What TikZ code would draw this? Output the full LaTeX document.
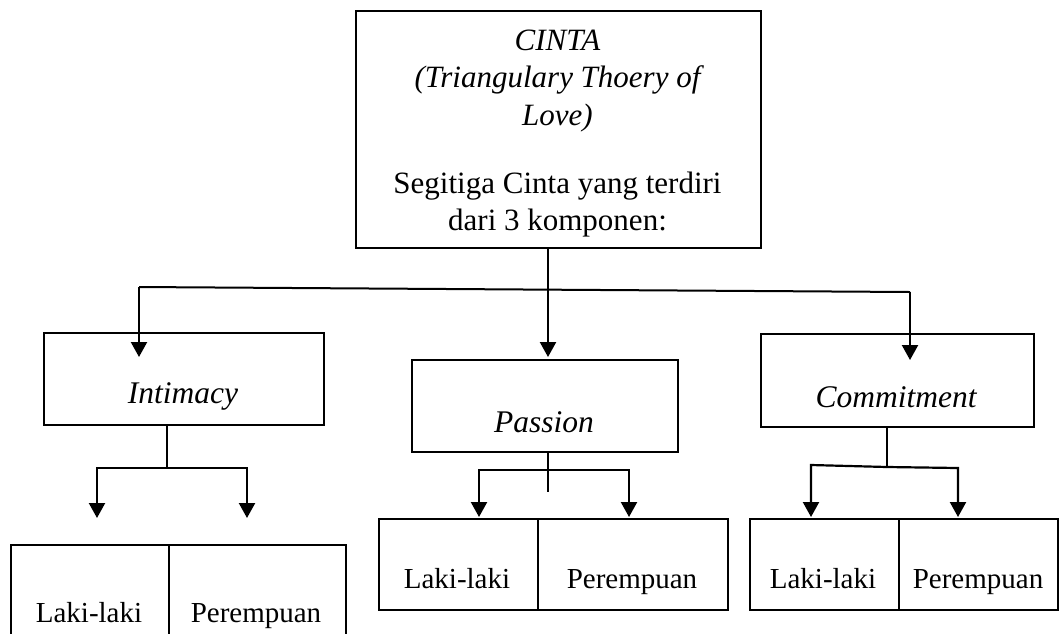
\documentclass[tikz,border=0pt]{standalone}
\usepackage{fontspec}
\setmainfont{Liberation Serif}
\usetikzlibrary{arrows.meta}
\begin{document}
\begin{tikzpicture}[x=1pt,y=-1pt,
  box/.style={draw, line width=2pt, rectangle, inner sep=0pt, anchor=north west},
  lbl/.style={anchor=base, inner sep=0pt},
  conn/.style={line width=2pt},
  arr/.style={line width=2.2pt, -{Triangle[length=15pt,width=16pt]}},
  big/.style={font=\fontsize{31}{37}\selectfont},
  mid/.style={font=\fontsize{31.5}{37}\selectfont\itshape},
  small/.style={font=\fontsize{29}{35}\selectfont}]
\clip (0,0) rectangle (1060,633);
\fill[white] (0,0) rectangle (1060,633);

% boxes
\node[box, minimum width=405pt, minimum height=237pt] (top) at (355,10) {};
\node[box, minimum width=280pt, minimum height=92pt] (intim) at (43,332) {};
\node[box, minimum width=266pt, minimum height=92pt] (pass) at (411,359) {};
\node[box, minimum width=273pt, minimum height=93pt] (comm) at (760,333) {};
\node[box, minimum width=158pt, minimum height=120pt] (il) at (10,544) {};
\node[box, minimum width=177pt, minimum height=120pt] (ip) at (168,544) {};
\node[box, minimum width=159pt, minimum height=91pt] (pl) at (378,518) {};
\node[box, minimum width=190pt, minimum height=91pt] (pp) at (537,518) {};
\node[box, minimum width=149pt, minimum height=91pt] (cl) at (749,518) {};
\node[box, minimum width=159pt, minimum height=91pt] (cp) at (898,518) {};

% texts
\node[lbl, big] (t1) at (557.5,50.7) {\itshape CINTA};
\node[lbl, big] (t2) at (557.5,87.5) {\itshape (Triangulary Thoery of};
\node[lbl, big] (t3) at (557.5,125) {\itshape Love)};
\node[lbl, big] (t4) at (557.5,193) {Segitiga Cinta yang terdiri};
\node[lbl, big] (t5) at (557.5,230) {dari 3 komponen:};
\node[lbl, mid] (tint) at (183,403) {Intimacy};
\node[lbl, mid] (tpas) at (544,432) {Passion};
\node[lbl, mid] (tcom) at (896,407) {Commitment};
\node[lbl, small] (til) at (89,622) {Laki-laki};
\node[lbl, small] (tip) at (256,622) {Perempuan};
\node[lbl, small] (tpl) at (457,588) {Laki-laki};
\node[lbl, small] (tpp) at (632,588) {Perempuan};
\node[lbl, small] (tcl) at (823,588) {Laki-laki};
\node[lbl, small] (tcp) at (978,588) {Perempuan};

% junction coordinates
\coordinate (tS) at (548,247);
\coordinate (hL) at (139,287);
\coordinate (hR) at (910,292);
\coordinate (iTip) at (139,357);
\coordinate (pTip) at (548,357);
\coordinate (cTip) at (910,360);

\coordinate (iS) at (167,424);
\coordinate (iJ) at (167,468);
\coordinate (iL) at (97,468);
\coordinate (iR) at (247,468);
\coordinate (iLt) at (97,518);
\coordinate (iRt) at (247,518);

\coordinate (pS) at (548,451);
\coordinate (pE) at (548,492);
\coordinate (pL) at (479,470);
\coordinate (pR) at (629,470);
\coordinate (pLt) at (479,517);
\coordinate (pRt) at (629,517);

\coordinate (cS) at (887,426);
\coordinate (cJ) at (887,467);
\coordinate (cL) at (811,465);
\coordinate (cR) at (958,468);
\coordinate (cLt) at (811,517);
\coordinate (cRt) at (958,517);

% connectors
\draw[conn] (hL) -- (hR);
\draw[arr] (tS) -- (pTip);
\draw[arr] (hL) -- (iTip);
\draw[arr] (hR) -- (cTip);

\draw[conn] (iS) -- (iJ);
\draw[arr] (iJ) -- (iL) -- (iLt);
\draw[arr] (iJ) -- (iR) -- (iRt);

\draw[conn] (pS) -- (pE);
\draw[arr] (pS |- pL) -- (pL) -- (pLt);
\draw[arr] (pS |- pR) -- (pR) -- (pRt);

\draw[conn] (cS) -- (cJ);
\draw[arr] (cJ) -- (cL) -- (cLt);
\draw[arr] (cJ) -- (cR) -- (cRt);
\end{tikzpicture}
\end{document}
